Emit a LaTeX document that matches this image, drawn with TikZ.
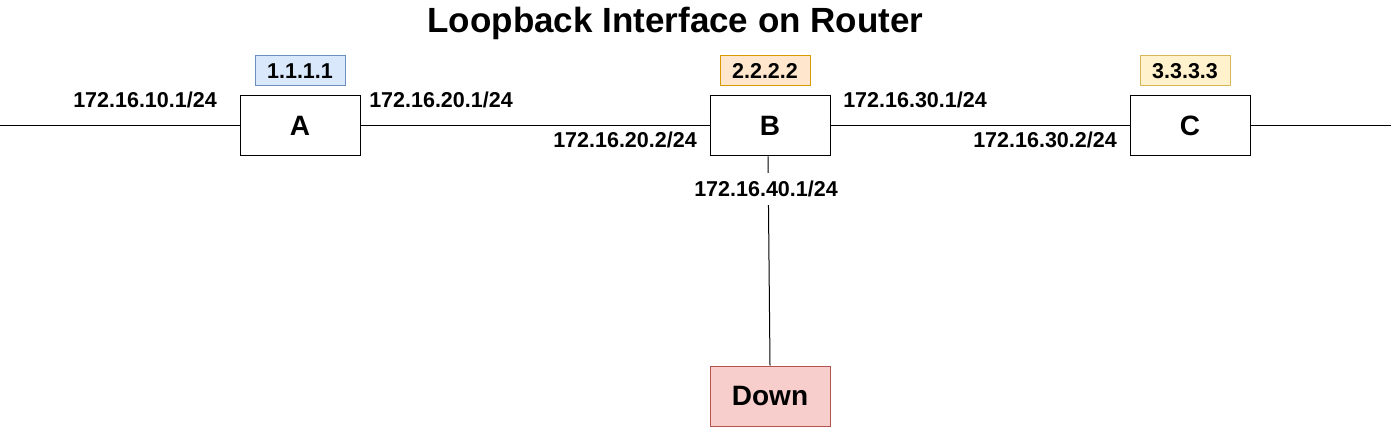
\documentclass[tikz,border=0pt]{standalone}
\usepackage{fontspec}
\setmainfont{Liberation Sans}
\definecolor{bluefill}{HTML}{DAE8FC}
\definecolor{blueline}{HTML}{6C8EBF}
\definecolor{orangefill}{HTML}{FFE6CC}
\definecolor{orangeline}{HTML}{D79B00}
\definecolor{yellowfill}{HTML}{FFF2CC}
\definecolor{yellowline}{HTML}{D6B656}
\definecolor{redfill}{HTML}{F8CECC}
\definecolor{redline}{HTML}{B85450}
\tikzset{
  router/.style={draw=black, line width=1pt, fill=white, minimum width=120pt, minimum height=60pt, inner sep=0pt, font=\fontsize{28}{34}\selectfont\bfseries},
  loopback/.style={line width=1pt, minimum width=90pt, minimum height=30pt, inner sep=0pt, font=\fontsize{21.5}{26}\selectfont\bfseries},
  iplabel/.style={anchor=base, inner sep=0pt, font=\fontsize{21.5}{26}\selectfont\bfseries},
  edgelabel/.style={iplabel, fill=white, text height=15.5pt, text depth=0pt, inner xsep=2pt, inner ysep=8pt},
  link/.style={draw=black, line width=1pt},
}
\begin{document}
\begin{tikzpicture}[x=1pt, y=-1pt]
\useasboundingbox (0,0) rectangle (1394,427);
\node[anchor=base, inner sep=0pt, font=\fontsize{35}{42}\selectfont\bfseries] (title) at (675.5,33) {Loopback Interface on Router};
\coordinate (left) at (0,126);
\coordinate (right) at (1391,126);
\node[router] (A) at (300,126) {A};
\node[router] (B) at (770,126) {B};
\node[router] (C) at (1190,126) {C};
\node[router, draw=redline, fill=redfill] (Down) at (770,396) {Down};
\node[loopback, draw=blueline, fill=bluefill] (LA) at (300,71) {1.1.1.1};
\node[loopback, draw=orangeline, fill=orangefill] (LB) at (765,71) {2.2.2.2};
\node[loopback, draw=yellowline, fill=yellowfill] (LC) at (1185,71) {3.3.3.3};
\draw[link] (left) -- (A.west);
\draw[link] (A.east) -- (B.west);
\draw[link] (B.east) -- (C.west);
\draw[link] (C.east) -- (right);
\draw[link] ([xshift=-2pt]B.south) -- (Down.north);
\node[iplabel] (ip1) at (145,108) {172.16.10.1/24};
\node[iplabel] (ip2) at (441,108) {172.16.20.1/24};
\node[iplabel] (ip3) at (625,148) {172.16.20.2/24};
\node[iplabel] (ip4) at (915,108) {172.16.30.1/24};
\node[iplabel] (ip5) at (1045,148) {172.16.30.2/24};
\node[edgelabel] (ip6) at (766,197) {172.16.40.1/24};
\end{tikzpicture}
\end{document}
